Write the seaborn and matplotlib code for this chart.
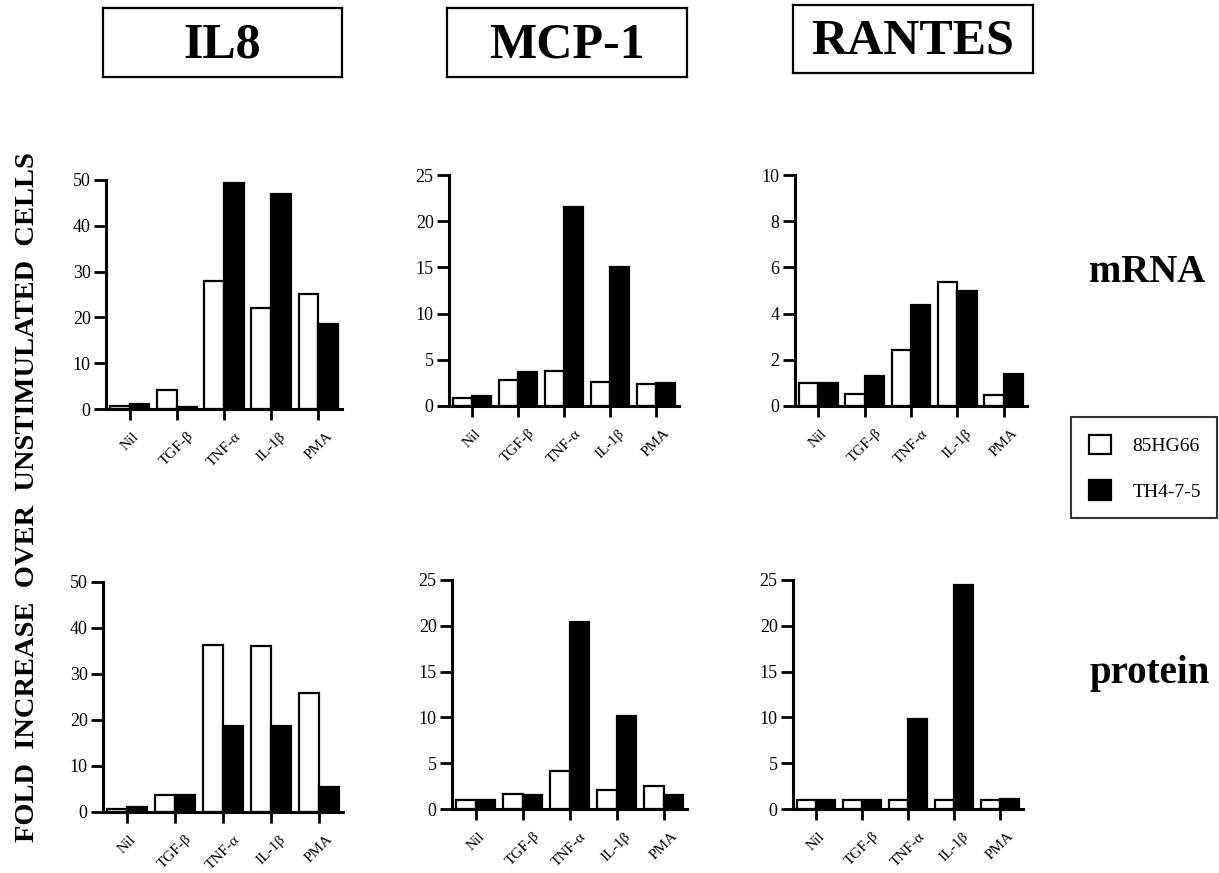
import matplotlib
matplotlib.use("Agg")
import matplotlib.pyplot as plt
from matplotlib.patches import Patch
import seaborn as sns
import pandas as pd

# stimuli on the x axis and the two cell lines
stimuli = ['Nil', 'TGF-β', 'TNF-α', 'IL-1β', 'PMA']
lines = ['85HG66', 'TH4-7-5']

# fold increase values
il8_mrna_85 = [0.7, 4.2, 28.0, 22.0, 25.1]
il8_mrna_th = [1.0, 0.5, 49.4, 47.0, 18.6]
mcp1_mrna_85 = [0.9, 2.85, 3.8, 2.6, 2.35]
mcp1_mrna_th = [1.05, 3.7, 21.5, 15.0, 2.5]
rantes_mrna_85 = [1.0, 0.53, 2.41, 5.35, 0.49]
rantes_mrna_th = [1.0, 1.29, 4.36, 5.0, 1.4]

il8_prot_85 = [0.7, 3.6, 36.2, 36.0, 25.9]
il8_prot_th = [1.1, 3.8, 18.8, 18.6, 5.4]
mcp1_prot_85 = [0.95, 1.65, 4.2, 2.1, 2.55]
mcp1_prot_th = [1.0, 1.55, 20.4, 10.2, 1.55]
rantes_prot_85 = [1.0, 1.0, 1.0, 1.0, 1.0]
rantes_prot_th = [1.0, 1.0, 9.8, 24.5, 1.05]

chemokines = ['IL8', 'MCP-1', 'RANTES']
y_ticks_mrna = [range(0, 51, 10), range(0, 26, 5), range(0, 11, 2)]
y_ticks_prot = [range(0, 51, 10), range(0, 26, 5), range(0, 26, 5)]

sns.set_style("ticks")
plt.rcParams['font.family'] = ['Liberation Serif', 'DejaVu Serif']
for key in ['text.color', 'axes.labelcolor', 'xtick.color', 'ytick.color', 'axes.edgecolor']:
    plt.rcParams[key] = 'black'

W, H = 1219, 873
fig = plt.figure(figsize=(W / 100, H / 100), dpi=100)


def rect(left, right, top, bottom):
    """Pixel box -> figure fraction [x, y, w, h]."""
    return [left / W, 1 - bottom / H, (right - left) / W, (bottom - top) / H]


def make_df(v85, vth):
    rows = []
    for s, a, b in zip(stimuli, v85, vth):
        rows.append({'stimulus': s, 'line': lines[0], 'fold': a})
        rows.append({'stimulus': s, 'line': lines[1], 'fold': b})
    return pd.DataFrame(rows)


def draw_panel(box, v85, vth, ticks):
    ax = fig.add_axes(rect(*box))
    df = make_df(v85, vth)
    sns.barplot(data=df, x='stimulus', y='fold', hue='line', order=stimuli,
                hue_order=lines, palette={lines[0]: 'white', lines[1]: 'black'},
                edgecolor='black', linewidth=1.6, width=0.84, gap=0,
                errorbar=None, legend=False, ax=ax)
    ticks = list(ticks)
    ax.set_xlim(-0.5, 4.5)
    ax.set_ylim(0, ticks[-1])
    ax.set_yticks(ticks)
    ax.set_xlabel('')
    ax.set_ylabel('')
    sns.despine(ax=ax)
    for side in ['left', 'bottom']:
        ax.spines[side].set_linewidth(2.2)
    ax.tick_params(axis='y', length=9, width=2, pad=2, labelsize=13)
    ax.tick_params(axis='x', length=8, width=2, pad=7, labelsize=11)
    for lab in ax.get_xticklabels():
        lab.set_rotation(45)
        lab.set_ha('center')
    ax.patch.set_alpha(0)
    return ax


mrna_boxes = [(106, 342, 180, 409), (449, 679, 175, 406), (795, 1027, 175, 406)]
prot_boxes = [(103, 343, 582, 812), (452, 687, 580, 809), (793, 1023, 580, 809)]
mrna_vals = [(il8_mrna_85, il8_mrna_th), (mcp1_mrna_85, mcp1_mrna_th),
             (rantes_mrna_85, rantes_mrna_th)]
prot_vals = [(il8_prot_85, il8_prot_th), (mcp1_prot_85, mcp1_prot_th),
             (rantes_prot_85, rantes_prot_th)]

for box, (a, b), t in zip(mrna_boxes, mrna_vals, y_ticks_mrna):
    draw_panel(box, a, b, t)
for box, (a, b), t in zip(prot_boxes, prot_vals, y_ticks_prot):
    draw_panel(box, a, b, t)

# boxed chemokine headers
title_boxes = [(103, 342, 8, 77), (447, 687, 8, 77), (793, 1033, 5, 73)]
for name, box in zip(chemokines, title_boxes):
    tax = fig.add_axes(rect(*box))
    tax.set_xticks([])
    tax.set_yticks([])
    for sp in tax.spines.values():
        sp.set_linewidth(1.6)
        sp.set_color('black')
    tax.text(0.5, 0.46, name, ha='center', va='center', fontsize=36,
             fontweight='bold', transform=tax.transAxes)

# row labels
fig.text(1147 / W, 1 - 272 / H, 'mRNA', ha='center', va='center',
         fontsize=28, fontweight='bold')
fig.text(1150 / W, 1 - 673 / H, 'protein', ha='center', va='center',
         fontsize=28, fontweight='bold')

# shared y label
fig.text(28 / W, 1 - 497 / H, 'FOLD  INCREASE  OVER  UNSTIMULATED  CELLS',
         rotation=90, ha='center', va='center', fontsize=20.5, fontweight='bold')

# legend
handles = [Patch(facecolor='white', edgecolor='black', linewidth=1.6, label=lines[0]),
           Patch(facecolor='black', edgecolor='black', linewidth=1.6, label=lines[1])]
leg = fig.legend(handles=handles, loc='upper left',
                 bbox_to_anchor=(1071 / W, 1 - 426 / H, (1217 - 1071) / W, 0.01),
                 mode='expand', fontsize=14, frameon=True, fancybox=False,
                 handlelength=1.15, handleheight=1.15, handletextpad=1.1,
                 labelspacing=1.3, borderpad=0.9, borderaxespad=0)
leg.get_frame().set_edgecolor('black')
leg.get_frame().set_linewidth(1.5)

fig.savefig('out.png', dpi=100)
